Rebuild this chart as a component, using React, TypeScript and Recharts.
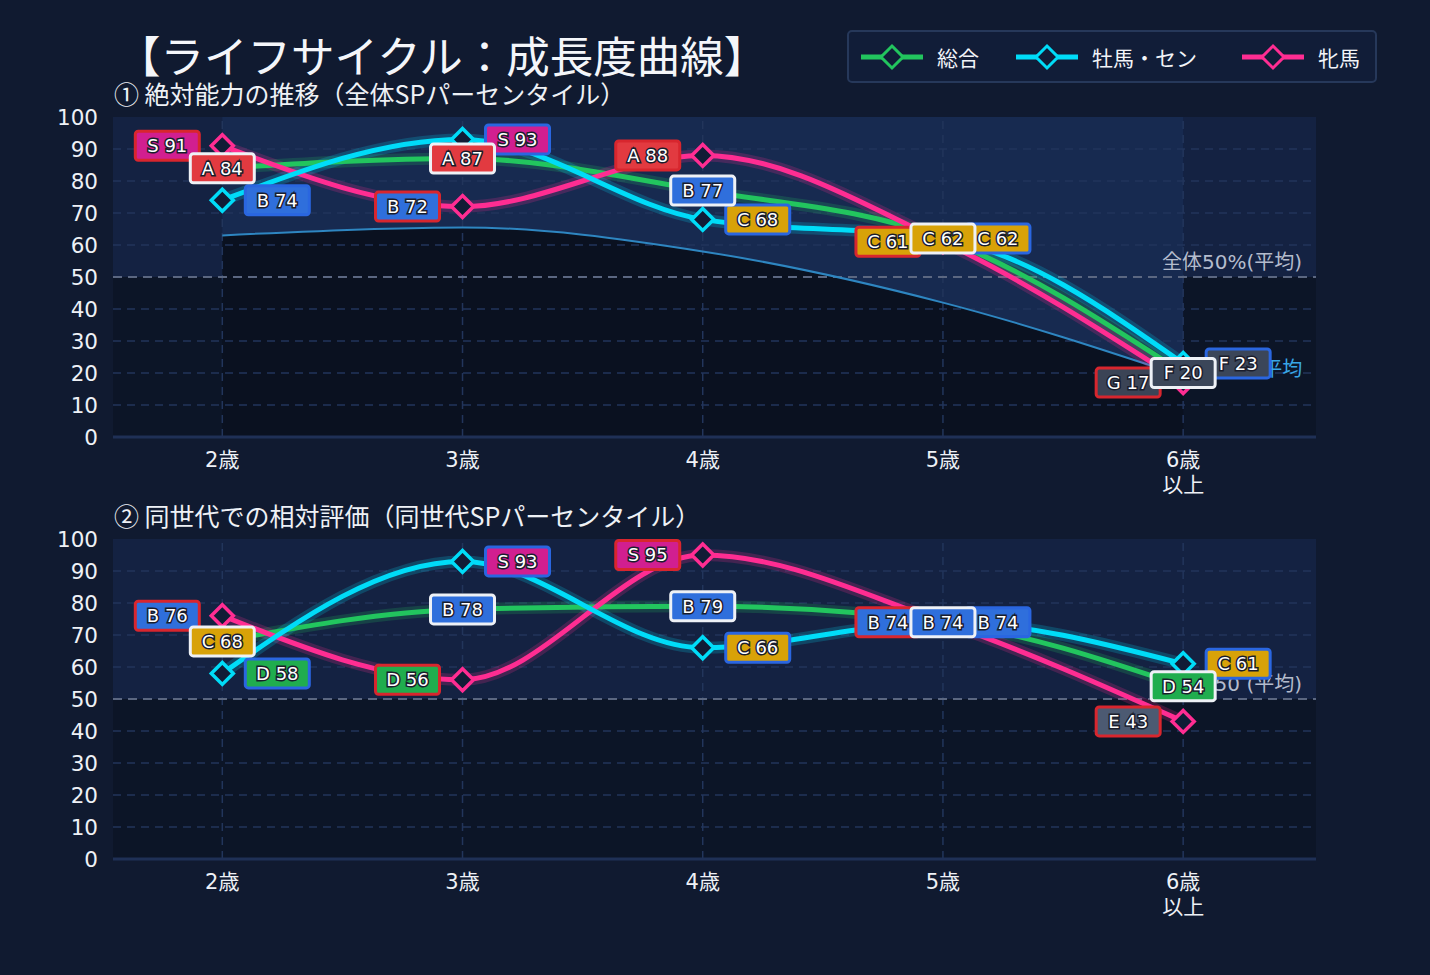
import React from 'react'
import { ComposedChart, Line, Area, XAxis, YAxis, ReferenceArea, ReferenceLine } from 'recharts'

const AGES = ['2歳', '3歳', '4歳', '5歳', '6歳\n以上']

// ① 絶対能力（全体SPパーセンタイル）
const ABS_TOTAL = [84, 87, 77, 62, 20]
const ABS_MALE = [74, 93, 68, 62, 23]
const ABS_FEMALE = [91, 72, 88, 61, 17]
const ABS_AVG = [63, 65.5, 58, 42, 19]

// ② 同世代での相対評価
const REL_TOTAL = [68, 78, 79, 74, 54]
const REL_MALE = [58, 93, 66, 74, 61]
const REL_FEMALE = [76, 56, 95, 74, 43]

const Y_TICKS = [0, 10, 20, 30, 40, 50, 60, 70, 80, 90, 100]
const X_TICKS = [0, 1, 2, 3, 4]

const FONT = '"DejaVu Sans", "Noto Sans CJK JP", sans-serif'
const CJK = '"Noto Sans CJK JP", sans-serif'
const BG = '#101a30'
const GRID = '#22355b'

const SERIES = [
  { key: 'total', name: '総合', color: '#22c55e', border: '#eef1f6', side: 'center' },
  { key: 'male', name: '牡馬・セン', color: '#00dcf8', border: '#2a66e0', side: 'right' },
  { key: 'female', name: '牝馬', color: '#ff2d92', border: '#d8262e', side: 'left' },
]

const GRADE_FILL: Record<string, string> = {
  S: '#d11f90', A: '#e23a40', B: '#2f6fdc', C: '#d8a208',
  D: '#20ad4e', E: '#4c5a72', F: '#3b4659', G: '#3b4456',
}

function grade(v: number) {
  if (v >= 90) return 'S'
  if (v >= 80) return 'A'
  if (v >= 70) return 'B'
  if (v >= 60) return 'C'
  if (v >= 50) return 'D'
  if (v >= 40) return 'E'
  if (v >= 20) return 'F'
  return 'G'
}

function Diamond(props: any) {
  const { cx, cy, stroke, index } = props
  if (cx == null || cy == null) return <g key={index} />
  const r = 11
  return (
    <path
      key={index}
      d={`M${cx},${cy - r} L${cx + r},${cy} L${cx},${cy + r} L${cx - r},${cy} Z`}
      fill="#111c36"
      stroke={stroke}
      strokeWidth={3.5}
    />
  )
}

function makeGradeDot(side: string, border: string) {
  return (props: any) => {
    const { cx, cy, value, index } = props
    if (cx == null || cy == null || value == null) return <g key={index} />
    const w = 64, h = 29
    const bx = side === 'center' ? cx - w / 2 : side === 'right' ? cx + 23 : cx - 23 - w
    const g = grade(value)
    return (
      <g key={index}>
        <rect x={bx} y={cy - h / 2} width={w} height={h} rx={3} fill={GRADE_FILL[g]} stroke={border} strokeWidth={3} />
        <text
          x={bx + w / 2} y={cy} dy="0.36em" textAnchor="middle"
          fill="#ffffff" stroke="#1a1d2c" strokeWidth={3} paintOrder="stroke"
          fontSize={18} fontFamily={FONT}
        >
          {g} {value}
        </text>
      </g>
    )
  }
}

function AgeTick(props: any) {
  const { x, y, payload } = props
  const lines = AGES[payload.value].split('\n')
  return (
    <text x={x} y={y} textAnchor="middle" fill="#eef1f6" fontSize={21} fontFamily={FONT}>
      {lines.map((l, i) => (
        <tspan key={i} x={x} dy={i === 0 ? 22 : 25}>{l}</tspan>
      ))}
    </text>
  )
}

function AvgLineLabel(props: any) {
  const { cx, cy, index } = props
  if (index !== AGES.length - 1) return <g key={index} />
  return (
    <text key={index} x={cx + 119} y={cy - 7} dy="0.36em" textAnchor="end" fill="#38a6e6" fontSize={20} fontFamily={FONT}>
      全体平均
    </text>
  )
}

function MidLabel(text: string) {
  return (props: any) => {
    const { viewBox } = props
    return (
      <text x={viewBox.x + viewBox.width - 14} y={viewBox.y - 15} dy="0.36em" textAnchor="end" fill="#b4bccd" fontSize={20} fontFamily={FONT}>
        {text}
      </text>
    )
  }
}

function Panel({ total, male, female, avg, midText }: { total: number[]; male: number[]; female: number[]; avg?: number[]; midText: string }) {
  const data = AGES.map((a, i) => ({
    x: i,
    total: total[i],
    male: male[i],
    female: female[i],
    avg: avg ? avg[i] : null,
    upper: avg ? [avg[i], 100] : null,
  }))
  const lineOrder = ['total', 'female', 'male']
  const labelOrder = ['female', 'male', 'total']

  return (
    <ComposedChart width={1430} height={500} data={data} margin={{ top: 117, right: 114, bottom: 13, left: 53 }}>
      <ReferenceArea y1={50} y2={100} fill="#142242" fillOpacity={1} stroke="none" />
      <ReferenceArea y1={0} y2={50} fill="#0c1527" fillOpacity={1} stroke="none" />
      {avg && (
        <Area dataKey="upper" type="monotone" fill="#172a50" fillOpacity={1} stroke="none" isAnimationActive={false} activeDot={false} legendType="none" />
      )}
      {avg && (
        <Area dataKey="avg" type="monotone" fill="#0a1120" fillOpacity={1} stroke="none" baseValue={0} isAnimationActive={false} activeDot={false} legendType="none" />
      )}
      {Y_TICKS.filter(t => t > 0 && t < 100 && t !== 50).map(t => (
        <ReferenceLine key={`gy-${t}`} y={t} stroke={GRID} strokeDasharray="8 6" strokeWidth={1.5} />
      ))}
      {X_TICKS.map(t => (
        <ReferenceLine key={`gx-${t}`} x={t} stroke={GRID} strokeDasharray="8 6" strokeWidth={1.5} />
      ))}
      <XAxis
        type="number" dataKey="x" domain={[-0.455, 4.553]} ticks={X_TICKS}
        tick={<AgeTick />} height={50} axisLine={{ stroke: '#1f3056', strokeWidth: 3 }} tickLine={false} allowDataOverflow
      />
      <YAxis
        domain={[0, 100]} ticks={Y_TICKS} width={60} axisLine={false} tickLine={false} tickSize={0} tickMargin={15}
        tick={{ fill: '#eef1f6', fontSize: 21.5, fontFamily: FONT }} interval={0}
      />
      <ReferenceLine y={50} stroke="#5b6781" strokeWidth={2} strokeDasharray="9 6" label={MidLabel(midText)} />
      {avg && (
        <Line dataKey="avg" type="monotone" stroke="#2e86c1" strokeWidth={2} dot={AvgLineLabel} activeDot={false} isAnimationActive={false} legendType="none" />
      )}
      {lineOrder.map(k => {
        const s = SERIES.find(t => t.key === k)!
        return (
          <Line key={`glow-${k}`} dataKey={k} type="monotone" stroke={s.color} strokeOpacity={0.2} strokeWidth={12} dot={false} activeDot={false} isAnimationActive={false} legendType="none" />
        )
      })}
      {lineOrder.map(k => {
        const s = SERIES.find(t => t.key === k)!
        return (
          <Line key={`line-${k}`} dataKey={k} name={s.name} type="monotone" stroke={s.color} strokeWidth={5} dot={<Diamond />} activeDot={false} isAnimationActive={false} />
        )
      })}
      {labelOrder.map(k => {
        const s = SERIES.find(t => t.key === k)!
        return (
          <Line key={`label-${k}`} dataKey={k} type="monotone" stroke="none" dot={makeGradeDot(s.side, s.border)} activeDot={false} isAnimationActive={false} legendType="none" />
        )
      })}
    </ComposedChart>
  )
}

function LegendBox() {
  const xs = [0, 155, 381]
  return (
    <div style={{ position: 'absolute', left: 847, top: 30, width: 526, height: 49, border: '2px solid #26385a', borderRadius: 5, background: '#111d38' }}>
      {SERIES.map((s, i) => (
        <div key={s.key} style={{ position: 'absolute', left: 11 + xs[i], top: 0, height: 49, display: 'flex', alignItems: 'center' }}>
          <svg width={64} height={30}>
            <line x1={1} y1={15} x2={63} y2={15} stroke={s.color} strokeWidth={5} />
            <path d="M32,4 L43,15 L32,26 L21,15 Z" fill="#111d38" stroke={s.color} strokeWidth={3} />
          </svg>
          <span style={{ marginLeft: 13, color: '#f2f4f8', fontSize: 21, fontFamily: CJK }}>{s.name}</span>
        </div>
      ))}
    </div>
  )
}

export default function App() {
  return (
    <div style={{ position: 'absolute', left: 0, top: 0, width: 1430, height: 975, background: BG, overflow: 'hidden', fontFamily: FONT }}>
      <div style={{ position: 'absolute', left: 117, top: 32, fontSize: 43.5, lineHeight: '46px', color: '#f4f6fa', fontFamily: CJK }}>
        【ライフサイクル：成長度曲線】
      </div>
      <LegendBox />
      <div style={{ position: 'absolute', left: 0, top: 0 }}>
        <Panel total={ABS_TOTAL} male={ABS_MALE} female={ABS_FEMALE} avg={ABS_AVG} midText="全体50%(平均)" />
      </div>
      <div style={{ position: 'absolute', left: 0, top: 422 }}>
        <Panel total={REL_TOTAL} male={REL_MALE} female={REL_FEMALE} midText="同世代50 (平均)" />
      </div>
      <div style={{ position: 'absolute', left: 114, top: 78, fontSize: 25, lineHeight: '30px', color: '#eef1f6', fontFamily: CJK }}>
        ① 絶対能力の推移（全体SPパーセンタイル）
      </div>
      <div style={{ position: 'absolute', left: 114, top: 500, fontSize: 25, lineHeight: '30px', color: '#eef1f6', fontFamily: CJK }}>
        ② 同世代での相対評価（同世代SPパーセンタイル）
      </div>
    </div>
  )
}
